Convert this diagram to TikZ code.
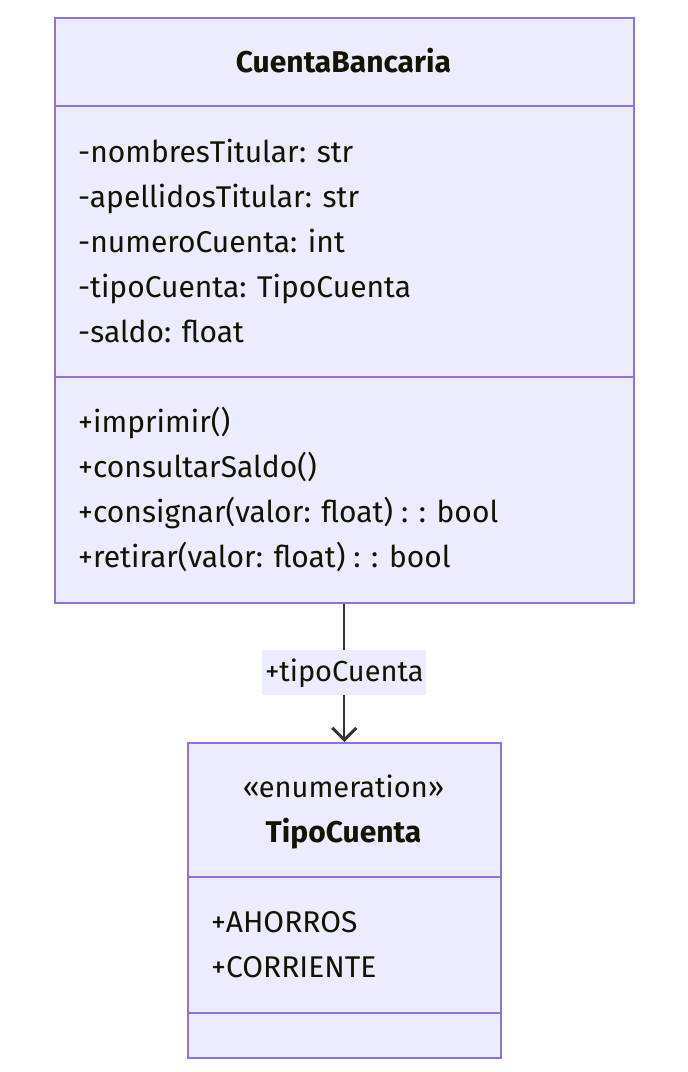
\documentclass[tikz,border=0pt]{standalone}
\usepackage{fontspec}
\setmainfont{Fira Sans}
\usetikzlibrary{arrows.meta}
\definecolor{boxfill}{HTML}{ECECFF}
\definecolor{boxline}{HTML}{9370DB}
\definecolor{txt}{HTML}{131300}
\definecolor{edgecol}{HTML}{333333}
\tikzset{
  classbox/.style={draw=boxline, fill=boxfill, line width=1.6pt, inner sep=0pt, anchor=north west},
  divider/.style={draw=boxline, line width=1.6pt},
  member/.style={text=txt, anchor=base west, inner sep=0pt, font=\fontsize{30}{34}\selectfont},
  ctitle/.style={text=txt, anchor=base, inner sep=0pt, font=\fontsize{30}{34}\selectfont\bfseries},
  stereo/.style={text=txt, anchor=base, inner sep=0pt, font=\fontsize{29}{34}\selectfont},
  assoc/.style={draw=edgecol, line width=2pt, -{Straight Barb[length=12pt, width=24pt, line width=3pt]}},
  elabel/.style={fill=boxfill, text=txt, inner sep=0pt, minimum width=164pt, minimum height=45pt, font=\fontsize{29}{34}\selectfont}
}
\begin{document}
\begin{tikzpicture}[x=1pt,y=-1pt]
\useasboundingbox (0,0) rectangle (688,1072);
% CuentaBancaria
\node[classbox, minimum width=579pt, minimum height=585pt] (cb) at (54,17) {};
\draw[divider] (54,106) -- (633,106);
\draw[divider] (54,377) -- (633,377);
\node[ctitle] (cbt) at (343.5,72) {CuentaBancaria};
\node[member] (a1) at (78,162) {-nombresTitular: str};
\node[member] (a2) at (78,207) {-apellidosTitular: str};
\node[member] (a3) at (78,252) {-numeroCuenta: int};
\node[member] (a4) at (78,297) {-tipoCuenta: TipoCuenta};
\node[member] (a5) at (78,342) {-saldo: float};
\node[member] (m1) at (78,432) {+imprimir()};
\node[member] (m2) at (78,477) {+consultarSaldo()};
\node[member] (m3) at (78,522) {+consignar(valor: float) : : bool};
\node[member] (m4) at (78,567) {+retirar(valor: float) : : bool};
% TipoCuenta
\node[classbox, minimum width=313pt, minimum height=315pt] (tc) at (187,742) {};
\draw[divider] (187,877) -- (500,877);
\draw[divider] (187,1013) -- (500,1013);
\node[stereo] (tcs) at (343.5,797) {«enumeration»};
\node[ctitle] (tct) at (343.5,842) {TipoCuenta};
\node[member] (e1) at (211,932) {+AHORROS};
\node[member] (e2) at (211,977) {+CORRIENTE};
% association
\draw[assoc] (cb.south) -- node[elabel] (lbl) {+tipoCuenta} (tc.north);
\end{tikzpicture}
\end{document}
